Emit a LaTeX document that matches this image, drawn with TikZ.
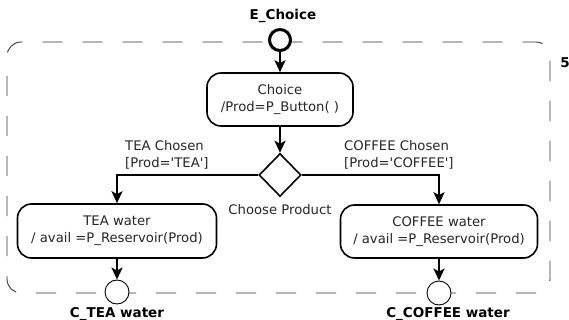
\documentclass[tikz,border=0pt]{standalone}
\usepackage{fontspec}
\setmainfont{DejaVu Sans}
\usetikzlibrary{arrows.meta,shapes.geometric}
\begin{document}
\begin{tikzpicture}[x=1pt,y=-1pt,
  txt/.style={font=\fontsize{13.2}{17}\selectfont, text=black!85},
  state/.style={txt, draw, line width=1.6pt, rounded corners=14pt, align=center, inner sep=0pt},
  conn/.style={line width=2.6pt, -{Stealth[length=12pt,width=11pt,inset=3pt]}},
  lbl/.style={txt, align=left, inner sep=0pt},
  pinlbl/.style={font=\bfseries\fontsize{13.5}{15}\selectfont, inner sep=0pt},
  endpt/.style={draw, circle, fill=white, line width=0.9pt, minimum size=24pt, inner sep=0pt}]
\useasboundingbox (0,0) rectangle (569,320);
\fill[white] (0,0) rectangle (569,320);
% enclosing dashed region
\draw[dash pattern=on 20pt off 20pt, dash phase=-20pt, line width=0.9pt, black!80, rounded corners=14pt] (7,42) rectangle (550,293);
\node[pinlbl] (five) at (565,63) {5};
% initial pin
\node[draw, circle, fill=white, line width=3pt, minimum size=21pt, inner sep=0pt] (init) at (280,40) {};
\node[pinlbl] (elbl) at (283,16) {E\_Choice};
% states
\node[state, minimum width=146pt, minimum height=53pt] (choice) at (280,99.5) {Choice\\/Prod=P\_Button(~)};
\node[draw, diamond, fill=white, line width=1.6pt, minimum width=42pt, minimum height=43pt, inner sep=0pt] (dec) at (280,175) {};
\node[lbl] (declbl) at (280,210) {Choose Product};
\node[state, minimum width=199pt, minimum height=54pt] (tea) at (117,231) {TEA water\\/ avail =P\_Reservoir(Prod)};
\node[state, minimum width=197pt, minimum height=53pt] (coffee) at (439,231.5) {COFFEE water\\/ avail =P\_Reservoir(Prod)};
% guard labels
\node[lbl, anchor=west] (tealbl) at (125,154.5) {TEA Chosen\\{[}Prod=\textquotesingle TEA\textquotesingle]};
\node[lbl, anchor=west] (coflbl) at (344,154.5) {COFFEE Chosen\\{[}Prod=\textquotesingle COFFEE\textquotesingle]};
% final pins
\node[endpt] (teaend) at (117,292) {};
\node[endpt] (cofend) at (439,293) {};
\node[pinlbl] (tealbl2) at (117,314) {C\_TEA water};
\node[pinlbl] (coflbl2) at (448,314) {C\_COFFEE water};
% connectors
\draw[conn] (init.south) -- (init.south |- choice.north);
\draw[conn] (choice.south) -- (dec.north);
\draw[conn] (dec.west) -| (tea.north);
\draw[conn] (dec.east) -| (coffee.north);
\draw[conn] (tea.south) -- (teaend.north);
\draw[conn] (coffee.south) -- (cofend.north);
\end{tikzpicture}
\end{document}
